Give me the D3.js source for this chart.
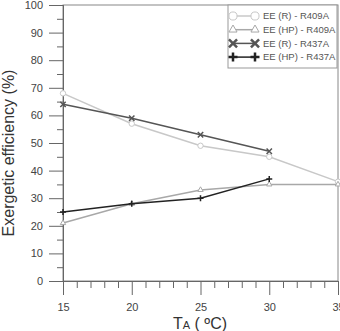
<!DOCTYPE html>
<html>
<head>
<meta charset="utf-8">
<script src="https://cdn.jsdelivr.net/npm/d3@7"></script>
<style>
  body { margin: 0; background: #fff; }
  text { font-family: "Liberation Sans", Arial, sans-serif; }
</style>
</head>
<body>
<div id="chart"></div>
<script>
// data
var temps = [15, 20, 25, 30, 35];
var r409R = [68, 57, 49, 45, 36];
var r409HP = [21, 28, 33, 35, 35];
var r437R = [64, 59, 53, 47];
var r437HP = [25, 28, 30, 37];
var seriesNames = ["EE (R) - R409A", "EE (HP) - R409A", "EE (R) - R437A", "EE (HP) - R437A"];
var yTicks = [0, 10, 20, 30, 40, 50, 60, 70, 80, 90, 100];

var width = 340, height = 331;
var margin = { left: 63, right: 2, top: 5, bottom: 50 };

var svg = d3.select("#chart").append("svg")
  .attr("width", width)
  .attr("height", height);

var x = d3.scaleLinear().domain([15, 35]).range([margin.left, width - margin.right]);
var y = d3.scaleLinear().domain([0, 100]).range([height - margin.bottom, margin.top]);

// frame
svg.append("rect")
  .attr("x", x(15)).attr("y", y(100))
  .attr("width", x(35) - x(15)).attr("height", y(0) - y(100))
  .attr("fill", "none").attr("stroke", "#888").attr("stroke-width", 1);

// y axis: major ticks outside, minor ticks shorter
var yAxis = d3.axisLeft(y).tickValues(yTicks).tickSize(14).tickPadding(6);
svg.append("g").attr("transform", "translate(" + x(15) + ",0)").call(yAxis);
var yMinor = d3.axisLeft(y).tickValues(d3.range(5, 100, 10)).tickSize(6).tickFormat("");
svg.append("g").attr("transform", "translate(" + x(15) + ",0)").call(yMinor);

// x axis
var xAxis = d3.axisBottom(x).tickValues(temps).tickSize(14).tickPadding(8);
svg.append("g").attr("transform", "translate(0," + y(0) + ")").call(xAxis);
var xMinor = d3.axisBottom(x).tickValues(d3.range(16, 35).filter(function(d) { return d % 5 !== 0; })).tickSize(7).tickFormat("");
svg.append("g").attr("transform", "translate(0," + y(0) + ")").call(xMinor);

svg.selectAll(".domain").attr("stroke", "#666");
svg.selectAll(".tick line").attr("stroke", "#666");
svg.selectAll(".tick text").attr("fill", "#444").style("font-size", "11px");

// axis titles
svg.append("text")
  .attr("transform", "translate(14," + 153 + ") rotate(-90)")
  .attr("text-anchor", "middle")
  .attr("fill", "#333")
  .style("font-size", "16px")
  .text("Exergetic efficiency (%)");

var xt = svg.append("text")
  .attr("x", 200).attr("y", 329)
  .attr("text-anchor", "middle")
  .attr("fill", "#333")
  .style("font-size", "16px");
xt.append("tspan").text("T");
xt.append("tspan").style("font-size", "11px").text("A");
xt.append("tspan").text(" ( ºC)");

// series
var series = [
  { name: seriesNames[0], values: r409R, color: "#c8c8c8", marker: "circle" },
  { name: seriesNames[1], values: r409HP, color: "#a8a8a8", marker: "triangle" },
  { name: seriesNames[2], values: r437R, color: "#555", marker: "cross" },
  { name: seriesNames[3], values: r437HP, color: "#222", marker: "plus" }
];

var line = d3.line()
  .x(function(d, i) { return x(temps[i]); })
  .y(function(d) { return y(d); });

function drawMarker(g, type, color, size) {
  if (type === "circle") {
    g.append("circle").attr("r", size * 0.45).attr("fill", "#fff").attr("stroke", color).attr("stroke-width", 1);
  } else if (type === "triangle") {
    g.append("path").attr("d", d3.symbol().type(d3.symbolTriangle).size(size * size * 0.35))
      .attr("fill", "#fff").attr("stroke", color).attr("stroke-width", 1);
  } else if (type === "cross") {
    var s = size * 0.45;
    g.append("path").attr("d", "M" + (-s) + "," + (-s) + "L" + s + "," + s + "M" + (-s) + "," + s + "L" + s + "," + (-s))
      .attr("stroke", color).attr("stroke-width", size > 6 ? 2.5 : 1.5);
  } else {
    var p = size * 0.5;
    g.append("path").attr("d", "M" + (-p) + ",0L" + p + ",0M0," + (-p) + "L0," + p)
      .attr("stroke", color).attr("stroke-width", size > 6 ? 2.5 : 1.5);
  }
}

series.forEach(function(s) {
  svg.append("path")
    .datum(s.values)
    .attr("d", line)
    .attr("fill", "none")
    .attr("stroke", s.color)
    .attr("stroke-width", 1.5);
  s.values.forEach(function(v, i) {
    var g = svg.append("g").attr("transform", "translate(" + x(temps[i]) + "," + y(v) + ")");
    drawMarker(g, s.marker, s.color, 6);
  });
});

// legend
var lg = svg.append("g").attr("transform", "translate(228,5)");
lg.append("rect")
  .attr("width", 109).attr("height", 63)
  .attr("fill", "#fff").attr("stroke", "#999").attr("stroke-width", 1);

series.forEach(function(s, i) {
  var row = lg.append("g").attr("transform", "translate(0," + (11 + i * 13.7) + ")");
  row.append("line").attr("x1", 5).attr("x2", 27).attr("stroke", s.color).attr("stroke-width", 1.5);
  drawMarker(row.append("g").attr("transform", "translate(5,0)"), s.marker, s.color, 9);
  drawMarker(row.append("g").attr("transform", "translate(27,0)"), s.marker, s.color, 9);
  row.append("text")
    .attr("x", 35).attr("y", 0).attr("dy", "0.35em")
    .attr("fill", "#555")
    .style("font-size", "9.5px")
    .text(s.name);
});
</script>
</body>
</html>
